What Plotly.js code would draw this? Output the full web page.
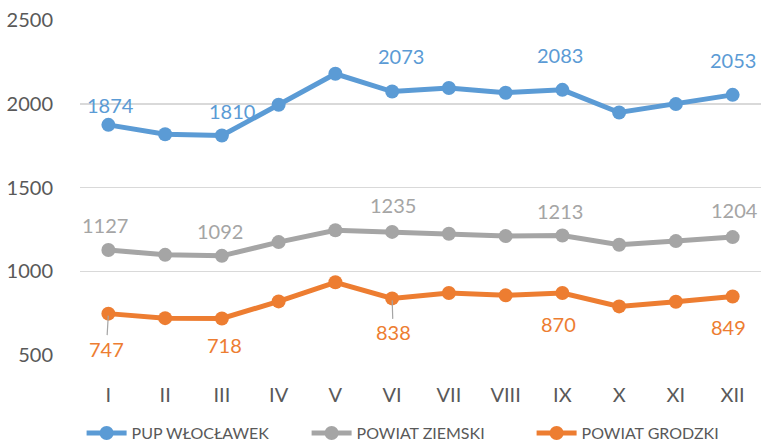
<!DOCTYPE html>
<html>
<head>
<meta charset="utf-8">
<script src="https://cdn.plot.ly/plotly-3.0.1.min.js"></script>
<style>html,body{margin:0;padding:0;background:#fff;}#chart{width:762px;height:441px;}</style>
</head>
<body>
<div id="chart"></div>
<script>
const months = ['I','II','III','IV','V','VI','VII','VIII','IX','X','XI','XII'];
const pupWloclawek = [1874,1818,1810,1994,2179,2073,2094,2066,2083,1948,1998,2053];
const powiatZiemski = [1127,1098,1092,1174,1245,1235,1224,1210,1213,1158,1180,1204];
const powiatGrodzki = [747,720,718,820,934,838,870,856,870,790,818,849];
const seriesNames = ['PUP WŁOCŁAWEK','POWIAT ZIEMSKI','POWIAT GRODZKI'];
const labelledMonths = [0,2,5,8,11];

const colors = ['#5B9BD5','#A5A5A5','#ED7D31'];
const font = 'Lato, "Open Sans", sans-serif';
const seriesData = [pupWloclawek, powiatZiemski, powiatGrodzki];

const traces = seriesData.map((vals, i) => ({
  type: 'scatter', mode: 'lines+markers',
  x: months, y: vals, name: seriesNames[i],
  line: {color: colors[i], width: 5},
  marker: {color: colors[i], size: 14},
  hoverinfo: 'skip'
}));

// label offsets [xshift, yshift] in px
const offsets = [
  [[2,20],[10,25],[9,36],[-2,35],[0,35]],
  [[-3,25],[-2,25],[1,27],[-2,25],[2,27]],
  [[-2,-35],[3,-27],[1,-34],[-4,-31],[-4,-30]]
];
const leaders = {2: [0, 2]}; // series 2: label index 0 (I) and 2 (VI) have leader lines

const annotations = [];
seriesData.forEach((vals, s) => {
  labelledMonths.forEach((m, k) => {
    const [dx, dy] = offsets[s][k];
    const hasLeader = leaders[s] && leaders[s].includes(k);
    if (hasLeader) {
      annotations.push({
        x: months[m], y: vals[m], xref: 'x', yref: 'y',
        text: String(vals[m]), showarrow: true, arrowhead: 0, arrowwidth: 1.2,
        arrowcolor: '#A5A5A5', ax: dx, ay: -dy, standoff: 2,
        font: {family: font, size: 20, color: colors[s]}
      });
    } else {
      annotations.push({
        x: months[m], y: vals[m], xref: 'x', yref: 'y',
        text: String(vals[m]), showarrow: false, xshift: dx, yshift: dy,
        font: {family: font, size: 20, color: colors[s]}
      });
    }
  });
});

const layout = {
  width: 762, height: 441,
  margin: {l: 80, r: 1, t: 20, b: 86},
  paper_bgcolor: '#ffffff', plot_bgcolor: '#ffffff',
  font: {family: font, color: '#595959'},
  showlegend: true,
  legend: {
    orientation: 'h', x: 0.55, xref: 'container', xanchor: 'center',
    y: 0.018, yref: 'container', yanchor: 'middle',
    font: {family: font, size: 16, color: '#595959'},
    entrywidth: 170, entrywidthmode: 'pixels', itemwidth: 40,
    traceorder: 'normal'
  },
  xaxis: {
    type: 'category', range: [-0.5, 11.5], showgrid: false, zeroline: false, showline: false,
    ticks: 'outside', ticklen: 22, tickcolor: 'rgba(0,0,0,0)',
    tickfont: {family: font, size: 20, color: '#595959'}, fixedrange: true
  },
  yaxis: {
    range: [500, 2500], tickvals: [500,1000,1500,2000,2500],
    showgrid: true, gridcolor: '#D9D9D9', gridwidth: 1.5, zeroline: false, showline: false,
    ticks: 'outside', ticklen: 22, tickcolor: 'rgba(0,0,0,0)',
    tickfont: {family: font, size: 20, color: '#595959'}, fixedrange: true
  },
  annotations: annotations
};

Plotly.newPlot('chart', traces, layout, {displayModeBar: false, staticPlot: true});
</script>
</body>
</html>
